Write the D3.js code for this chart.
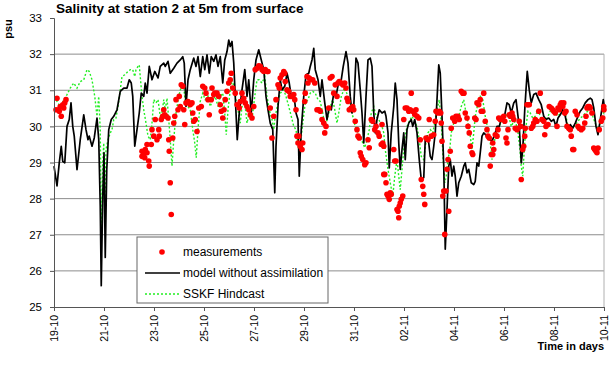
<html>
<head>
	<meta charset='utf-8' />
	<title>Salinity at station 2</title>
	<script src="https://cdn.jsdelivr.net/npm/d3@7"></script>
	<style>
	body { margin: 0; background: #fff; }
	text { font-family: Arial, "Liberation Sans", sans-serif; }
	.grid line { stroke: #8c8c8c; stroke-width: 1; }
	</style>
</head>
<body>
<script>

// x in days after 19-10, y in psu
var dayTicks = [0, 2, 4, 6, 8, 10, 12, 14, 16, 18, 20, 22];
var dayLabels = ["19-10", "21-10", "23-10", "25-10", "27-10", "29-10", "31-10", "02-11", "04-11", "06-11", "08-11", "10-11"];
var psuTicks = [25, 26, 27, 28, 29, 30, 31, 32, 33];

var model = [
[0,28.90],[0.12,28.35],[0.21,28.99],[0.29,29.45],[0.35,29.03],[0.43,28.99],[0.52,30.00],[0.61,30.19],[0.68,30.65],[0.75,30.00],
[0.81,29.73],[0.92,28.80],[1.05,29.63],[1.19,30.32],[1.28,29.91],[1.36,29.63],[1.41,29.73],[1.52,29.45],[1.61,29.68],[1.72,30.23],
[1.79,29.63],[1.85,27.79],[1.89,25.59],[1.95,28.07],[2.00,29.27],[2.05,26.37],[2.11,28.80],[2.19,29.91],[2.29,30.19],[2.39,30.28],
[2.52,30.46],[2.65,30.97],[2.79,31.06],[2.92,31.06],[3.01,31.29],[3.09,31.20],[3.15,30.83],[3.23,29.45],[3.32,29.91],[3.41,30.37],
[3.49,30.92],[3.59,30.83],[3.65,31.20],[3.72,30.92],[3.81,31.66],[3.92,31.29],[4.03,31.52],[4.16,31.34],[4.25,31.66],[4.39,31.75],
[4.45,31.66],[4.56,31.80],[4.65,31.47],[4.79,31.61],[4.92,31.75],[5.05,31.84],[5.15,31.93],[5.21,31.75],[5.28,30.55],[5.36,31.29],
[5.45,31.57],[5.59,31.89],[5.68,31.66],[5.76,31.93],[5.85,31.38],[5.95,31.93],[6.03,31.57],[6.12,31.98],[6.21,31.47],[6.29,31.93],
[6.39,31.80],[6.48,31.98],[6.56,31.66],[6.65,31.93],[6.75,31.20],[6.83,31.84],[6.92,32.07],[6.99,32.39],[7.05,32.21],[7.12,32.35],
[7.19,31.75],[7.25,30.83],[7.33,29.63],[7.41,30.37],[7.52,31.01],[7.63,31.57],[7.72,30.83],[7.79,31.29],[7.89,30.37],[7.99,31.29],
[8.08,31.84],[8.19,32.12],[8.29,31.84],[8.39,31.57],[8.48,30.83],[8.56,30.46],[8.65,30.09],[8.75,29.91],[8.83,28.16],[8.88,29.45],
[8.96,30.55],[9.05,31.29],[9.12,31.01],[9.23,31.11],[9.32,31.47],[9.41,31.20],[9.49,30.83],[9.59,30.92],[9.68,30.37],[9.76,30.19],
[9.81,28.62],[9.89,29.91],[9.99,30.83],[10.08,31.43],[10.19,31.47],[10.25,31.66],[10.32,31.84],[10.39,32.16],[10.45,31.57],[10.56,31.29],
[10.65,30.83],[10.72,31.29],[10.83,30.65],[10.92,30.19],[11.01,30.55],[11.09,30.46],[11.19,30.92],[11.28,30.83],[11.39,31.24],[11.49,31.29],
[11.57,31.66],[11.68,32.07],[11.76,31.75],[11.85,30.83],[11.92,30.37],[11.99,30.55],[12.08,31.89],[12.16,31.75],[12.25,31.01],[12.32,30.37],
[12.39,29.54],[12.48,30.83],[12.56,31.84],[12.65,31.89],[12.72,31.66],[12.79,30.37],[12.85,29.82],[12.92,30.19],[13.01,30.46],[13.12,30.37],
[13.23,30.42],[13.28,30.28],[13.36,29.82],[13.41,28.85],[13.49,29.82],[13.59,30.55],[13.65,31.20],[13.72,30.74],[13.79,29.54],[13.85,28.81],
[13.92,29.36],[13.99,29.82],[14.05,29.08],[14.12,29.91],[14.19,30.09],[14.29,30.19],[14.35,30.00],[14.43,30.19],[14.52,29.82],[14.61,29.08],
[14.69,28.53],[14.79,28.58],[14.85,29.63],[14.92,29.73],[14.99,29.54],[15.05,29.17],[15.12,29.08],[15.19,29.45],[15.25,29.82],[15.32,30.74],
[15.39,31.70],[15.45,31.47],[15.52,30.28],[15.59,28.90],[15.65,26.60],[15.72,27.70],[15.79,28.90],[15.85,29.08],[15.92,28.62],[15.99,28.90],
[16.05,28.62],[16.12,28.07],[16.19,28.44],[16.29,28.62],[16.39,28.90],[16.45,28.99],[16.52,28.71],[16.59,28.81],[16.69,28.44],[16.79,28.39],
[16.85,28.48],[16.92,28.99],[16.99,28.90],[17.05,29.27],[17.12,29.73],[17.19,29.82],[17.32,29.73],[17.45,29.63],[17.52,29.59],[17.63,29.77],
[17.72,30.00],[17.81,30.00],[17.92,30.28],[18.03,30.32],[18.12,30.65],[18.21,30.60],[18.29,30.37],[18.39,30.65],[18.48,30.74],[18.56,30.28],
[18.61,30.00],[18.69,28.99],[18.75,29.36],[18.83,30.46],[18.88,31.01],[18.93,31.52],[19.01,31.01],[19.09,30.65],[19.19,30.88],[19.28,30.92],
[19.39,30.74],[19.49,30.60],[19.59,30.28],[19.68,30.19],[19.79,30.23],[19.89,30.14],[19.99,30.19],[20.08,30.00],[20.16,30.23],[20.25,30.32],
[20.35,30.46],[20.45,30.28],[20.56,29.91],[20.65,30.05],[20.75,29.95],[20.85,30.09],[20.96,30.28],[21.05,30.42],[21.15,30.51],[21.25,30.65],
[21.36,30.74],[21.45,30.78],[21.52,30.74],[21.59,30.51],[21.68,30.00],[21.76,29.77],[21.81,30.00],[21.89,30.37],[21.97,30.74],[22.0,30.60]
];

var hindcast = [
[0.03,30.83],[0.12,30.69],[0.25,30.55],[0.52,30.88],[0.65,31.06],[0.79,31.20],[0.92,31.06],[1.05,31.24],[1.19,31.29],[1.32,31.57],
[1.41,31.52],[1.52,31.29],[1.63,30.83],[1.72,30.28],[1.79,30.83],[1.85,29.91],[1.89,26.97],[1.95,28.99],[1.99,29.54],[2.03,27.52],
[2.08,29.36],[2.16,29.63],[2.25,29.82],[2.32,29.91],[2.39,30.19],[2.48,30.23],[2.56,30.55],[2.65,31.01],[2.72,31.38],[2.83,31.43],
[2.96,31.52],[3.05,31.57],[3.15,31.57],[3.23,31.38],[3.28,31.57],[3.36,31.66],[3.41,31.70],[3.45,31.38],[3.52,30.83],[3.59,30.46],
[3.68,30.09],[3.76,29.73],[3.85,29.63],[3.92,30.09],[3.99,30.74],[4.08,30.65],[4.16,30.74],[4.25,30.28],[4.32,30.37],[4.39,30.74],
[4.45,30.46],[4.52,30.78],[4.59,30.19],[4.65,29.63],[4.72,28.90],[4.79,29.63],[4.88,30.37],[4.99,30.83],[5.09,31.11],[5.19,31.11],
[5.25,30.65],[5.36,30.55],[5.45,30.46],[5.55,29.91],[5.63,29.54],[5.69,29.13],[5.76,29.91],[5.85,30.69],[5.95,30.92],[6.05,30.74],
[6.16,30.83],[6.25,30.55],[6.35,30.74],[6.45,30.83],[6.56,30.55],[6.65,30.83],[6.75,30.92],[6.83,30.37],[6.89,29.77],[6.96,30.46],
[7.05,31.01],[7.12,31.29],[7.19,31.11],[7.28,30.74],[7.36,30.46],[7.45,30.09],[7.52,30.55],[7.63,30.65],[7.72,30.09],[7.81,30.37],
[7.92,30.19],[8.03,30.83],[8.12,31.29],[8.21,31.29],[8.32,31.20],[8.43,31.38],[8.52,30.83],[8.61,30.46],[8.72,30.19],[8.79,29.91],
[8.85,30.28],[8.96,30.65],[9.05,30.92],[9.19,31.01],[9.28,30.83],[9.39,30.55],[9.49,30.28],[9.59,30.00],[9.68,29.91],[9.79,29.36],
[9.85,29.45],[9.95,30.09],[10.05,30.65],[10.16,30.74],[10.25,30.92],[10.35,30.97],[10.45,30.92],[10.56,30.74],[10.65,30.69],[10.75,30.37],
[10.85,30.00],[10.96,30.28],[11.05,30.55],[11.15,30.74],[11.23,30.46],[11.32,30.09],[11.39,30.37],[11.49,30.83],[11.59,31.01],[11.68,30.97],
[11.76,30.83],[11.85,30.65],[11.95,30.28],[12.05,30.00],[12.16,29.82],[12.25,29.73],[12.35,29.54],[12.43,29.41],[12.52,29.63],[12.61,29.91],
[12.69,30.37],[12.79,30.55],[12.88,30.28],[12.99,30.19],[13.12,30.00],[13.19,29.82],[13.25,29.36],[13.36,28.81],[13.45,28.44],[13.55,28.07],
[13.63,28.62],[13.72,29.08],[13.79,28.62],[13.85,28.25],[13.92,28.81],[13.99,29.36],[14.05,29.73],[14.12,30.00],[14.21,30.14],[14.32,30.28],
[14.43,30.14],[14.52,30.00],[14.61,29.63],[14.69,29.17],[14.79,29.08],[14.85,29.45],[14.96,29.82],[15.05,29.91],[15.15,29.82],[15.23,30.09],
[15.32,30.46],[15.41,30.74],[15.49,30.09],[15.56,29.17],[15.63,28.44],[15.69,28.62],[15.76,29.08],[15.83,29.36],[15.89,29.82],[15.99,30.09],
[16.08,30.14],[16.19,30.28],[16.29,30.55],[16.39,30.74],[16.48,30.37],[16.56,30.09],[16.65,29.73],[16.72,29.36],[16.79,29.82],[16.85,30.28],
[16.96,30.65],[17.05,30.83],[17.15,30.74],[17.25,30.28],[17.36,29.91],[17.45,29.54],[17.52,29.08],[17.63,29.63],[17.72,29.91],[17.81,30.00],
[17.92,30.19],[18.03,30.28],[18.12,30.32],[18.21,30.23],[18.29,30.00],[18.39,30.14],[18.48,30.09],[18.56,29.82],[18.64,29.36],[18.69,28.90],
[18.75,28.62],[18.81,29.36],[18.88,30.00],[18.96,30.42],[19.05,30.37],[19.15,30.23],[19.25,30.28],[19.36,30.46],[19.45,30.28],[19.55,30.09],
[19.65,30.14],[19.76,30.28],[19.85,30.42],[19.95,30.51],[20.05,30.37],[20.16,30.28],[20.25,30.37],[20.35,30.51],[20.45,30.37],[20.56,30.00],
[20.65,29.91],[20.75,29.95],[20.85,30.05],[20.96,30.14],[21.05,30.23],[21.15,30.28],[21.25,30.37],[21.36,30.42],[21.45,30.37],[21.55,30.28],
[21.65,30.09],[21.76,29.91],[21.85,30.09],[21.95,30.32],[22.0,30.40]
];

var measured = [
[0.08,30.46],[0.12,30.78],[0.19,30.46],[0.21,30.42],[0.25,30.55],[0.29,30.28],[0.35,30.60],[0.39,30.51],[0.43,30.65],[0.48,30.74],
[3.52,29.31],[3.52,29.17],[3.59,29.22],[3.63,29.13],[3.65,29.36],[3.72,29.27],[3.72,29.50],[3.79,29.04],[3.81,28.90],[3.89,29.50],
[3.92,29.91],[3.99,29.73],[4.05,30.19],[4.12,29.63],[4.19,29.91],[4.21,29.73],[4.29,30.19],[4.35,30.28],
[4.39,30.46],[4.43,30.32],[4.48,30.28],[4.56,30.23],[4.59,29.63],[4.61,29.31],[4.65,28.44],[4.69,27.56],[4.75,29.68],[4.79,30.09],
[4.83,30.28],[4.88,30.74],[4.96,30.46],[5.01,30.83],[5.05,30.55],[5.09,31.15],[5.15,31.11],[5.19,30.46],[5.23,30.05],[5.28,30.65],
[5.36,30.69],[5.45,30.60],[5.52,30.65],[5.55,30.37],[5.59,30.14],[5.65,30.19],[5.72,29.86],[5.79,30.51],[5.89,30.55],[5.95,31.11],
[6.03,31.06],[6.08,30.92],[6.16,30.74],[6.21,30.32],[6.29,30.74],[6.32,31.06],[6.39,30.88],[6.43,30.92],[6.52,30.92],[6.59,30.83],
[6.65,30.60],[6.69,30.42],[6.75,30.23],[6.80,30.46],[6.85,30.74],[6.92,30.97],[6.99,31.20],[7.05,31.29],[7.09,31.47],[7.15,31.06],
[7.25,30.92],[7.32,30.60],[7.41,30.51],[7.45,30.69],[7.52,30.92],[7.59,30.78],[7.65,30.65],[7.72,30.55],[7.79,30.46],[7.85,30.32],
[7.92,30.23],[7.99,30.55],[8.05,31.57],[8.12,31.61],[8.19,31.68],[8.25,31.66],[8.32,31.57],[8.39,31.52],[8.45,31.57],[8.53,31.52],
[8.56,31.52],[8.65,30.51],[8.72,29.68],
[8.79,30.28],[8.88,30.74],[8.96,31.15],[9.01,31.06],[9.05,31.34],[9.12,31.43],[9.19,31.52],[9.23,31.47],[9.25,31.24],[9.32,31.01],
[9.39,30.97],[9.45,30.83],[9.52,30.83],[9.59,30.88],[9.63,30.74],[9.68,30.46],[9.72,29.73],[9.76,29.54],[9.79,29.73],[9.85,29.45],
[9.92,29.36],[9.95,29.54],[10.03,30.69],[10.05,30.92],[10.12,31.38],[10.16,31.20],[10.21,31.34],[10.29,31.29],[10.35,31.29],[10.43,31.20],
[10.52,30.46],[10.59,30.46],[10.65,30.42],[10.72,30.19],[10.79,30.09],[10.83,29.82],[10.88,30.00],[10.99,30.51],[11.05,31.34],[11.12,31.38],
[11.19,30.92],[11.25,31.15],[11.32,30.83],[11.36,31.20],[11.41,31.24],[11.49,31.20],[11.55,31.15],[11.63,31.20],[11.68,31.06],[11.72,30.78],
[11.76,30.69],[11.81,30.46],[11.89,30.51],[11.95,30.55],[11.99,30.46],[12.05,30.14],[12.12,29.91],[12.16,29.73],[12.21,29.68],[12.25,29.27],
[12.29,29.17],[12.35,29.08],[12.43,28.94],[12.48,28.99],[12.56,29.63],[12.61,29.41],[12.69,30.19],[12.75,30.14],[12.83,29.91],[12.88,30.00],
[12.96,29.82],[13.01,29.73],[13.09,29.50],[13.15,29.54],[13.19,28.67],
[13.12,30.05],[13.19,29.45],[13.23,28.67],[13.28,28.44],[13.32,28.12],[13.36,28.07],[13.41,27.98],[13.45,28.16],[13.49,28.12],[13.59,29.36],
[13.63,29.04],[13.68,29.04],[13.72,27.70],[13.76,27.65],[13.79,27.47],[13.81,27.79],[13.85,27.88],[13.89,27.98],[13.95,28.07],[13.99,30.19],
[14.05,30.51],[14.12,30.51],[14.19,30.42],[14.25,30.46],[14.29,30.92],[14.35,30.42],[14.43,30.33],[14.48,30.46],[14.52,30.28],[14.59,30.23],
[14.65,29.63],[14.69,28.53],[14.75,28.34],[14.79,28.12],[14.83,27.84],[14.88,29.68],[14.96,29.63],[15.01,30.19],[15.09,29.73],[15.19,29.77],
[15.25,30.14],[15.28,30.42],[15.36,30.37],[15.41,30.42],[15.47,30.37],[15.49,30.09],[15.52,29.59],[15.55,28.07],[15.59,28.21],[15.63,27.01],
[15.68,28.21],[15.72,28.81],[15.76,29.08],[15.79,27.65],[15.85,29.31],[15.89,29.95],[15.95,30.23],[16.03,30.14],[16.08,30.28],[16.16,30.28],
[16.21,30.19],[16.29,30.97],[16.35,30.92],[16.40,30.92],[16.45,30.37],[16.52,30.23],[16.56,30.00],[16.61,29.82],[16.65,29.45],[16.72,29.27],
[16.75,29.22],[16.83,30.23],[16.88,30.19],[16.92,30.65],[16.99,30.60],[17.05,30.74],[17.09,30.42],[17.15,30.42],[17.19,30.92],[17.25,30.14],
[17.32,29.91],[17.36,29.73],[17.41,29.68],[17.45,28.90],[17.49,29.22],[17.55,29.54],
[17.55,29.22],[17.59,29.36],[17.65,29.77],[17.72,29.73],[17.76,29.91],[17.79,30.23],[17.85,30.19],[17.92,30.23],[17.99,30.28],[18.03,30.14],
[18.08,29.68],[18.12,29.54],[18.16,29.91],[18.21,30.32],[18.25,30.28],[18.32,30.37],[18.35,30.28],[18.39,30.19],[18.45,29.95],[18.52,29.91],
[18.56,29.95],[18.61,30.14],[18.67,30.00],[18.69,28.53],[18.75,29.36],[18.79,29.45],[18.83,29.73],[18.85,29.95],[18.92,30.60],[18.96,30.60],
[19.01,30.60],[19.09,29.95],[19.15,30.00],[19.19,30.09],[19.25,30.19],[19.32,30.14],[19.39,30.42],[19.45,30.92],[19.52,30.19],[19.59,30.14],
[19.63,29.77],[19.68,30.00],[19.76,30.05],[19.81,30.55],[19.89,30.51],[19.95,30.46],[19.99,30.42],[20.05,30.37],[20.12,30.00],[20.16,30.51],
[20.21,30.46],[20.25,30.60],[20.29,30.65],[20.35,30.55],[20.39,30.65],[20.43,30.37],[20.48,30.42],[20.52,30.00],[20.59,29.95],[20.65,29.91],
[20.69,29.73],[20.75,29.36],[20.79,29.36],[20.85,30.42],[20.92,30.32],[20.96,30.00],[21.01,29.95],[21.09,29.91],[21.15,29.95],[21.23,30.09],
[21.28,30.28],[21.32,30.51],[21.36,30.55],[21.41,30.55],[21.45,30.51],[21.52,30.37],[21.59,29.40],[21.63,29.36],[21.68,29.31],[21.72,29.27],
[21.76,29.40],[21.81,29.91],[21.89,30.14],[21.95,30.23],[21.99,30.55],[22.0,30.46]
];

var legendItems = ["measurements", "model without assimilation", "SSKF Hindcast"];

var margin = {top: 18, right: 5, bottom: 58, left: 54};
var width = 609 - margin.left - margin.right,
    height = 365 - margin.top - margin.bottom;

var base = d3.select("body").append("svg")
	.attr("width", width + margin.left + margin.right)
	.attr("height", height + margin.top + margin.bottom);

var svg = base.append("g").attr("transform", "translate(" + margin.left + "," + margin.top + ")");

var xScale = d3.scaleLinear().domain([0, 22]).range([0, width]);
var yScale = d3.scaleLinear().domain([25, 33]).range([height, 0]);

// horizontal grid
svg.append("g")
	.attr("class", "grid")
	.selectAll("line")
	.data(psuTicks.filter(d => d > 25 && d < 33))
	.enter().append("line")
	.attr("x1", 0).attr("x2", width)
	.attr("y1", d => yScale(d)).attr("y2", d => yScale(d));

// right border of plot area
svg.append("line")
	.attr("x1", width).attr("x2", width)
	.attr("y1", yScale(32)).attr("y2", height)
	.attr("stroke", "#b0b0b0");

var line = d3.line()
	.x(d => xScale(d[0]))
	.y(d => yScale(d[1]));

svg.append("path")
	.datum(hindcast)
	.attr("fill", "none")
	.attr("stroke", "#22ee22")
	.attr("stroke-width", 1.4)
	.attr("stroke-dasharray", "2,2")
	.attr("d", line);

svg.append("path")
	.datum(model)
	.attr("fill", "none")
	.attr("stroke", "#000")
	.attr("stroke-width", 1.7)
	.attr("stroke-linejoin", "round")
	.attr("d", line);

svg.append("g")
	.selectAll("circle")
	.data(measured)
	.enter().append("circle")
	.attr("cx", d => xScale(d[0]))
	.attr("cy", d => yScale(d[1]))
	.attr("r", 2.8)
	.attr("fill", "#ff0000");

// axes
var yAxis = svg.append("g")
	.call(d3.axisLeft(yScale).tickValues(psuTicks).tickSize(4).tickPadding(8).tickFormat(d3.format("d")));
yAxis.selectAll("text").attr("font-size", "11.5px").attr("fill", "#000").style("font-family", "Arial, 'Liberation Sans', sans-serif");
yAxis.selectAll("line, path").attr("stroke", "#555");

var xAxis = svg.append("g")
	.attr("transform", "translate(0," + height + ")")
	.call(d3.axisBottom(xScale).tickValues(dayTicks).tickSize(4).tickSizeOuter(0).tickFormat((d, i) => dayLabels[i]));
xAxis.selectAll("line, path").attr("stroke", "#555");
xAxis.selectAll("text")
	.attr("font-size", "10.5px")
	.attr("fill", "#000")
	.style("font-family", "Arial, 'Liberation Sans', sans-serif")
	.attr("text-anchor", "end")
	.attr("transform", "rotate(-90)")
	.attr("x", -8)
	.attr("y", 0)
	.attr("dy", "0.35em");

// titles
base.append("text")
	.attr("x", 56).attr("y", 13)
	.attr("font-size", "13.5px")
	.attr("font-weight", "bold")
	.text("Salinity at station 2 at 5m from surface");

base.append("text")
	.attr("transform", "translate(12,29) rotate(-90)")
	.attr("text-anchor", "middle")
	.attr("font-size", "11px")
	.attr("font-weight", "bold")
	.text("psu");

base.append("text")
	.attr("x", 604).attr("y", 350)
	.attr("text-anchor", "end")
	.attr("font-size", "11px")
	.attr("font-weight", "bold")
	.text("Time in days");

// legend
var legend = base.append("g").attr("transform", "translate(137,237)");
legend.append("rect")
	.attr("width", 191).attr("height", 66)
	.attr("fill", "#fff")
	.attr("stroke", "#666");

var rowY = d3.scalePoint().domain(legendItems).range([15, 57]);

legend.append("circle")
	.attr("cx", 25).attr("cy", rowY(legendItems[0]))
	.attr("r", 2.8).attr("fill", "#ff0000");
legend.append("line")
	.attr("x1", 8).attr("x2", 43)
	.attr("y1", rowY(legendItems[1])).attr("y2", rowY(legendItems[1]))
	.attr("stroke", "#000").attr("stroke-width", 1.7);
legend.append("line")
	.attr("x1", 8).attr("x2", 43)
	.attr("y1", rowY(legendItems[2])).attr("y2", rowY(legendItems[2]))
	.attr("stroke", "#22ee22").attr("stroke-width", 1.4).attr("stroke-dasharray", "2,2");

legend.selectAll("text.item")
	.data(legendItems)
	.enter().append("text")
	.attr("class", "item")
	.attr("x", 46)
	.attr("y", d => rowY(d))
	.attr("dy", "0.35em")
	.attr("font-size", "12px")
	.text(d => d);

</script>
</body>
</html>
